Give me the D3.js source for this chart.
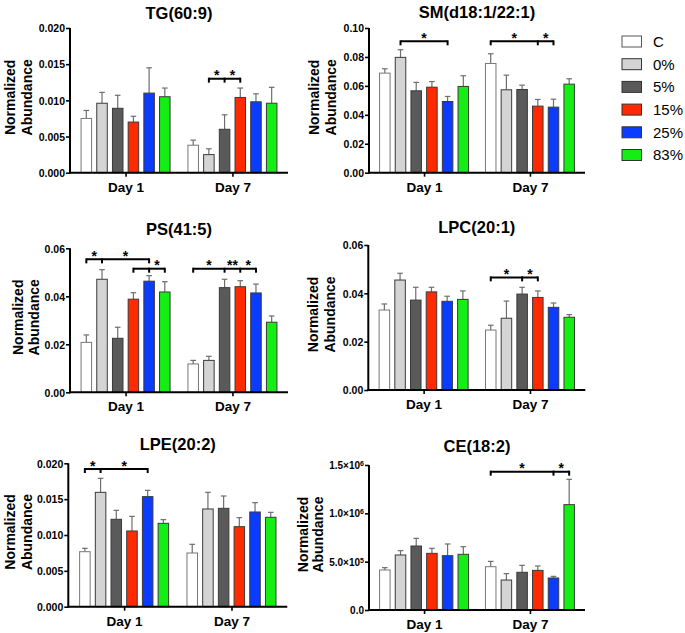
<!DOCTYPE html>
<html><head><meta charset="utf-8">
<script src="https://cdn.jsdelivr.net/npm/d3@7"></script>
<style>
body{margin:0;background:#fff;}
svg{display:block;font-family:"Liberation Sans",Arial,sans-serif;}
</style></head><body>
<svg id="chart" width="685" height="633"></svg>
<script>
// ---------- DATA ----------
const groups = ["C", "0%", "5%", "15%", "25%", "83%"];
const days = ["Day 1", "Day 7"];
const titles = ["TG(60:9)", "SM(d18:1/22:1)", "PS(41:5)", "LPC(20:1)", "LPE(20:2)", "CE(18:2)"];

// means [Day1, Day7] and SEM [Day1, Day7]
const tgMean = [[0.0075, 0.0096, 0.0089, 0.0070, 0.0110, 0.0105], [0.0038, 0.0025, 0.0060, 0.0104, 0.0098, 0.0096]];
const tgErr  = [[0.0011, 0.0015, 0.0018, 0.0008, 0.0035, 0.0012], [0.0007, 0.0008, 0.0020, 0.0013, 0.0011, 0.0022]];
const smMean = [[0.0688, 0.0797, 0.0566, 0.0591, 0.0492, 0.0596], [0.0755, 0.0573, 0.0575, 0.0460, 0.0453, 0.0612]];
const smErr  = [[0.0030, 0.0053, 0.0058, 0.0039, 0.0035, 0.0074], [0.0067, 0.0101, 0.0030, 0.0046, 0.0055, 0.0037]];
const psMean = [[0.0208, 0.0471, 0.0225, 0.0388, 0.0463, 0.0418], [0.0118, 0.0133, 0.0436, 0.0440, 0.0414, 0.0292]];
const psErr  = [[0.0031, 0.0040, 0.0046, 0.0027, 0.0023, 0.0043], [0.0015, 0.0017, 0.0035, 0.0025, 0.0037, 0.0026]];
const lpcMean = [[0.0331, 0.0455, 0.0372, 0.0406, 0.0367, 0.0375], [0.0248, 0.0297, 0.0397, 0.0383, 0.0342, 0.0301]];
const lpcErr  = [[0.0025, 0.0028, 0.0053, 0.0019, 0.0021, 0.0035], [0.0020, 0.0071, 0.0028, 0.0027, 0.0018, 0.0011]];
const lpeMean = [[0.00767, 0.01595, 0.01219, 0.01056, 0.01535, 0.01163], [0.00749, 0.01363, 0.01372, 0.01116, 0.01321, 0.01247]];
const lpeErr  = [[0.00047, 0.00195, 0.00125, 0.00204, 0.00088, 0.00051], [0.00121, 0.00232, 0.00172, 0.00126, 0.00130, 0.00069]];
const ceMean = [[414000, 569000, 662000, 586000, 562000, 576000], [448000, 310000, 390000, 410000, 331000, 1090000]];
const ceErr  = [[24000, 45000, 79000, 52000, 121000, 79000], [55000, 66000, 72000, 45000, 17000, 262000]];

// y-axis ticks
const tgTicks = [0, 0.005, 0.010, 0.015, 0.020];
const tgTickLabels = ["0.000", "0.005", "0.010", "0.015", "0.020"];
const smTicks = [0, 0.02, 0.04, 0.06, 0.08, 0.10];
const smTickLabels = ["0.00", "0.02", "0.04", "0.06", "0.08", "0.10"];
const psTicks = [0, 0.02, 0.04, 0.06];
const psTickLabels = ["0.00", "0.02", "0.04", "0.06"];
const lpcTicks = [0, 0.02, 0.04, 0.06];
const lpcTickLabels = ["0.00", "0.02", "0.04", "0.06"];
const lpeTicks = [0, 0.005, 0.010, 0.015, 0.020];
const lpeTickLabels = ["0.000", "0.005", "0.010", "0.015", "0.020"];
const ceTicks = [0, 500000, 1000000, 1500000];
const ceTickLabels = [["0.0", ""], ["5.0×10", "5"], ["1.0×10", "6"], ["1.5×10", "6"]];

// significance brackets: day index, bar indices of ticks, stars between ticks, y value
const tgSig = [{day: 1, ticks: [1, 2, 3], stars: ["*", "*"], y: 0.0130}];
const smSig = [{day: 0, ticks: [1, 4], stars: ["*"], y: 0.0908}, {day: 1, ticks: [0, 3, 4], stars: ["*", "*"], y: 0.0908}];
const psSig = [{day: 0, ticks: [0, 1, 4], stars: ["*", "*"], y: 0.0554}, {day: 0, ticks: [3, 4, 5], stars: ["", "*"], y: 0.0515},
               {day: 1, ticks: [0, 2, 3, 4], stars: ["*", "**", "*"], y: 0.0515}];
const lpcSig = [{day: 1, ticks: [0, 2, 3], stars: ["*", "*"], y: 0.0466}];
const lpeSig = [{day: 0, ticks: [0, 1, 4], stars: ["*", "*"], y: 0.0192}];
const ceSig = [{day: 1, ticks: [0, 4, 5], stars: ["*", "*"], y: 1431000}];

// ---------- STYLE / LAYOUT ----------
const fills = ["#ffffff", "#d4d4d4", "#5a5a5a", "#ff2a00", "#0a3cff", "#14ee14"];
const panels = [
  {mean: tgMean, err: tgErr, ticks: tgTicks, labels: tgTickLabels, sig: tgSig, max: 0.020,
   x: 70, top: 28, bottom: 172.7, w: 218, titleY: 19, lab1: -55, lab2: -38},
  {mean: smMean, err: smErr, ticks: smTicks, labels: smTickLabels, sig: smSig, max: 0.10,
   x: 369, top: 28, bottom: 172.7, w: 216, titleY: 17.5, lab1: -50, lab2: -33},
  {mean: psMean, err: psErr, ticks: psTicks, labels: psTickLabels, sig: psSig, max: 0.06,
   x: 70, top: 248.3, bottom: 392.3, w: 218, titleY: 235, lab1: -47, lab2: -31},
  {mean: lpcMean, err: lpcErr, ticks: lpcTicks, labels: lpcTickLabels, sig: lpcSig, max: 0.06,
   x: 368.3, top: 245, bottom: 390, w: 217, titleY: 232.5, lab1: -50, lab2: -33},
  {mean: lpeMean, err: lpeErr, ticks: lpeTicks, labels: lpeTickLabels, sig: lpeSig, max: 0.020,
   x: 68.3, top: 463.3, bottom: 606.7, w: 219, titleY: 450, lab1: -53, lab2: -36},
  {mean: ceMean, err: ceErr, ticks: ceTicks, labels: ceTickLabels, sig: ceSig, max: 1500000,
   x: 369, top: 465, bottom: 610, w: 216, titleY: 451.5, lab1: -61, lab2: -46, sci: true},
];

const svg = d3.select("#chart");

panels.forEach((p, pi) => {
  const g = svg.append("g").attr("transform", `translate(${p.x},0)`);
  const xDay = d3.scalePoint().domain(days).range([0, p.w]).padding(0.52);
  const xBar = d3.scaleBand().domain(groups).range([-44.5, 44.5]).paddingInner(0.33);
  const y = d3.scaleLinear().domain([0, p.max]).range([p.bottom, p.top]);
  const bw = xBar.bandwidth();

  // bars + error bars
  days.forEach((day, di) => {
    const cx = xDay(day);
    groups.forEach((gr, gi) => {
      const m = p.mean[di][gi], e = p.err[di][gi];
      const bx = cx + xBar(gr);
      const mid = bx + bw / 2;
      g.append("line").attr("x1", mid).attr("x2", mid)
        .attr("y1", y(m)).attr("y2", y(m + e)).attr("stroke", "#6e6e6e").attr("stroke-width", 1.2);
      g.append("line").attr("x1", mid - 2.8).attr("x2", mid + 2.8)
        .attr("y1", y(m + e)).attr("y2", y(m + e)).attr("stroke", "#6e6e6e").attr("stroke-width", 1.2);
      g.append("rect").attr("x", bx).attr("y", y(m)).attr("width", bw).attr("height", y(0) - y(m))
        .attr("fill", fills[gi]).attr("stroke", gi === 0 ? "#777" : "#3a3a3a").attr("stroke-width", 1);
    });
  });

  // y axis
  const yAxis = d3.axisLeft(y).tickValues(p.ticks).tickSize(4).tickFormat("");
  const ya = g.append("g").call(yAxis);
  ya.select(".domain").attr("stroke", "#000").attr("stroke-width", 2).attr("d", `M0,${p.bottom + 1}V${p.top}`);
  ya.selectAll(".tick line").attr("stroke", "#000").attr("stroke-width", 1.6);
  ya.selectAll(".tick").each(function(d, i) {
    const t = d3.select(this).append("text").attr("x", -5).attr("dy", "0.36em")
      .attr("text-anchor", "end").attr("fill", "#000").attr("font-size", p.sci ? 10 : 10.5)
      .attr("font-weight", "bold").attr("font-family", '"Liberation Sans",Arial,sans-serif');
    const lab = p.labels[i];
    if (Array.isArray(lab)) {
      t.append("tspan").text(lab[0]);
      if (lab[1]) t.append("tspan").attr("dy", "-0.45em").attr("font-size", 7).text(lab[1]);
    } else t.text(lab);
  });

  // x axis
  const xa = g.append("g").attr("transform", `translate(0,${p.bottom})`)
    .call(d3.axisBottom(xDay).tickSize(4).tickFormat(""));
  xa.select(".domain").attr("stroke", "#000").attr("stroke-width", 2).attr("d", `M-1,0H${p.w}`);
  xa.selectAll(".tick line").attr("stroke", "#000").attr("stroke-width", 1.6);
  xa.selectAll(".tick").append("text").attr("y", 19).attr("text-anchor", "middle")
    .attr("fill", "#000").attr("font-size", 13.5).attr("font-weight", "bold")
    .attr("font-family", '"Liberation Sans",Arial,sans-serif').text(d => d);

  // title
  g.append("text").attr("x", p.w / 2).attr("y", p.titleY).attr("text-anchor", "middle")
    .attr("font-size", 16.5).attr("font-weight", "bold").text(titles[pi]);

  // y label
  const cy = (p.top + p.bottom) / 2 - 3;
  g.append("text").attr("transform", `translate(${p.lab1},${cy}) rotate(-90)`).attr("text-anchor", "middle")
    .attr("font-size", 14).attr("font-weight", "bold").text("Normalized");
  g.append("text").attr("transform", `translate(${p.lab2},${cy}) rotate(-90)`).attr("text-anchor", "middle")
    .attr("font-size", 14).attr("font-weight", "bold").text("Abundance");

  // significance brackets
  p.sig.forEach(s => {
    const cx = xDay(days[s.day]);
    const xs = s.ticks.map(i => cx + xBar(groups[i]) + bw / 2);
    const yy = y(s.y);
    g.append("line").attr("x1", xs[0]).attr("x2", xs[xs.length - 1]).attr("y1", yy).attr("y2", yy)
      .attr("stroke", "#000").attr("stroke-width", 2);
    xs.forEach(xv => g.append("line").attr("x1", xv).attr("x2", xv).attr("y1", yy - 1).attr("y2", yy + 4)
      .attr("stroke", "#000").attr("stroke-width", 2));
    s.stars.forEach((st, k) => {
      if (!st) return;
      g.append("text").attr("x", (xs[k] + xs[k + 1]) / 2).attr("y", yy + 1.5).attr("text-anchor", "middle")
        .attr("font-size", 14).attr("font-weight", "bold").text(st);
    });
  });
});

// legend
const leg = svg.append("g").attr("transform", "translate(622,36)");
groups.forEach((gr, i) => {
  const row = leg.append("g").attr("transform", `translate(0,${i * 22.7})`);
  row.append("rect").attr("width", 19.5).attr("height", 11).attr("fill", fills[i])
    .attr("stroke", i === 0 ? "#555" : "#333").attr("stroke-width", 1);
  row.append("text").attr("x", 31).attr("y", 10.8).attr("font-size", 15).text(gr);
});
</script>
</body></html>
